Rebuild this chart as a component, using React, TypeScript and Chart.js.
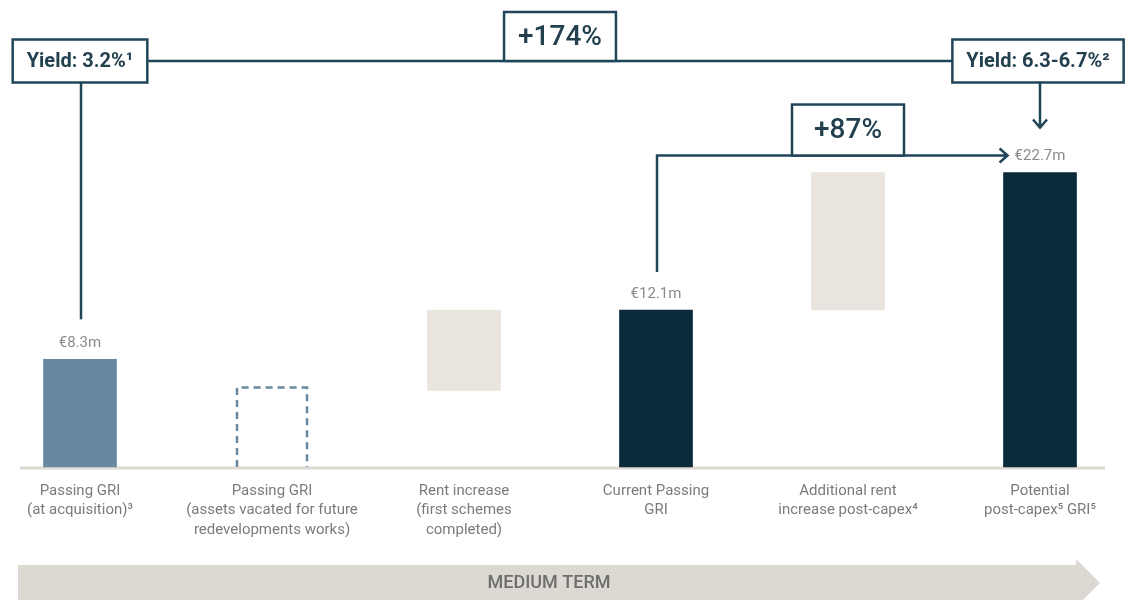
import React, { useEffect, useRef } from "react";
import { Chart, registerables } from "chart.js";

Chart.register(...registerables);

// ---- data ----
const categories: string[][] = [
  ["Passing GRI", "(at acquisition)³"],
  ["Passing GRI", "(assets vacated for future", "redevelopments works)"],
  ["Rent increase", "(first schemes", "completed)"],
  ["Current Passing", "GRI"],
  ["Additional rent", "increase post-capex⁴"],
  ["Potential", "post-capex⁵ GRI⁵"],
];
const barStart = [0, 0, 5.9, 0, 12.1, 0];
const barEnd = [8.3, 6.2, 12.1, 12.1, 22.7, 22.7];
const valueLabels = ["€8.3m", "", "", "€12.1m", "", "€22.7m"];
const barColors = ["#67889e", "rgba(0,0,0,0)", "#e9e5de", "#0b2a3a", "#e9e5de", "#0b2a3a"];
const yieldStartLabel = "Yield: 3.2%¹";
const yieldEndLabel = "Yield: 6.3-6.7%²";
const growthTotalLabel = "+174%";
const growthCurrentLabel = "+87%";
const bandLabel = "MEDIUM TERM";

const FONT = "Roboto, 'Noto Sans', sans-serif";
const LINE = "#1f4658";
const TEXT_DARK = "#23404f";

function drawBox(ctx: CanvasRenderingContext2D, cx: number, top: number, w: number, h: number, text: string, font: string) {
  ctx.save();
  ctx.fillStyle = "#ffffff";
  ctx.fillRect(cx - w / 2, top, w, h);
  ctx.lineWidth = 2.5;
  ctx.strokeStyle = LINE;
  ctx.strokeRect(cx - w / 2, top, w, h);
  ctx.fillStyle = TEXT_DARK;
  ctx.font = font;
  ctx.textAlign = "center";
  ctx.textBaseline = "middle";
  ctx.fillText(text, cx, top + h / 2 + 1);
  ctx.restore();
}

const waterfallPlugin = {
  id: "waterfallDecor",
  beforeDatasetsDraw(chart: any) {
    const ctx: CanvasRenderingContext2D = chart.ctx;
    const ca = chart.chartArea;
    ctx.save();
    // baseline
    ctx.fillStyle = "#dedad3";
    ctx.fillRect(20, ca.bottom - 0.5, 1085, 3);
    // band arrow
    ctx.fillStyle = "#dcd9d3";
    ctx.beginPath();
    ctx.moveTo(18, 565);
    ctx.lineTo(1076, 565);
    ctx.lineTo(1076, 559);
    ctx.lineTo(1100, 583);
    ctx.lineTo(1076, 607);
    ctx.lineTo(1076, 601);
    ctx.lineTo(18, 601);
    ctx.closePath();
    ctx.fill();
    ctx.fillStyle = "#6e6e6e";
    ctx.font = `500 18px ${FONT}`;
    ctx.textAlign = "center";
    ctx.textBaseline = "middle";
    ctx.fillText(bandLabel, 549, 583);
    ctx.restore();
  },
  afterDatasetsDraw(chart: any) {
    const ctx: CanvasRenderingContext2D = chart.ctx;
    const els = chart.getDatasetMeta(0).data;
    const p = (i: number) => els[i].getProps(["x", "y", "base", "width"], true);

    ctx.save();
    // dashed outline bar
    const d = p(1);
    ctx.strokeStyle = "#67889e";
    ctx.lineWidth = 2.5;
    ctx.setLineDash([7, 5]);
    ctx.beginPath();
    const l = d.x - d.width / 2 + 1.5;
    const r = d.x + d.width / 2 - 1.5;
    ctx.moveTo(l, d.base);
    ctx.lineTo(l, d.y + 1);
    ctx.lineTo(r, d.y + 1);
    ctx.lineTo(r, d.base);
    ctx.stroke();
    ctx.setLineDash([]);

    // value labels
    ctx.font = `400 15px ${FONT}`;
    ctx.fillStyle = "#8a8a8a";
    ctx.textAlign = "center";
    ctx.textBaseline = "middle";
    valueLabels.forEach((t, i) => {
      if (!t) return;
      const e = p(i);
      ctx.fillText(t, e.x, e.y - 16);
    });

    // annotation geometry
    const b0 = p(0), b3 = p(3), b5 = p(5);
    const topLineY = 61;
    const yieldH = 43;
    const yieldFont = `700 20px ${FONT}`;
    ctx.font = yieldFont;
    const w1 = ctx.measureText(yieldStartLabel).width + 28;
    const w2 = ctx.measureText(yieldEndLabel).width + 28;

    ctx.strokeStyle = LINE;
    ctx.lineWidth = 2.5;
    ctx.lineCap = "butt";
    // top connecting line
    ctx.beginPath();
    ctx.moveTo(b0.x + w1 / 2, topLineY);
    ctx.lineTo(b5.x - w2 / 2, topLineY);
    ctx.stroke();
    // vertical from first yield box to first label
    ctx.beginPath();
    ctx.moveTo(b0.x + 1, topLineY + yieldH / 2);
    ctx.lineTo(b0.x + 1, b0.y - 40);
    ctx.stroke();
    // down arrow from second yield box
    const tipY = b5.y - 45;
    ctx.beginPath();
    ctx.moveTo(b5.x, topLineY + yieldH / 2);
    ctx.lineTo(b5.x, tipY);
    ctx.moveTo(b5.x - 7, tipY - 8);
    ctx.lineTo(b5.x, tipY);
    ctx.lineTo(b5.x + 7, tipY - 8);
    ctx.stroke();

    // +87% connector
    const midY = b5.y - 17;
    ctx.font = `400 15px ${FONT}`;
    const lw = ctx.measureText(valueLabels[5]).width;
    const tipX = b5.x - lw / 2 - 7;
    ctx.beginPath();
    ctx.moveTo(b3.x + 1, b3.y - 38);
    ctx.lineTo(b3.x + 1, midY);
    ctx.lineTo(tipX, midY);
    ctx.moveTo(tipX - 8, midY - 7);
    ctx.lineTo(tipX, midY);
    ctx.lineTo(tipX - 8, midY + 7);
    ctx.stroke();

    // boxes
    drawBox(ctx, b0.x, topLineY - yieldH / 2, w1, yieldH, yieldStartLabel, yieldFont);
    drawBox(ctx, b5.x - 2, topLineY - yieldH / 2, w2, yieldH, yieldEndLabel, yieldFont);
    const bigFont = `500 28px ${FONT}`;
    ctx.font = bigFont;
    const w174 = ctx.measureText(growthTotalLabel).width + 28;
    drawBox(ctx, (b0.x + b5.x) / 2, topLineY - 49, w174, 49, growthTotalLabel, bigFont);
    const w87 = ctx.measureText(growthCurrentLabel).width + 44;
    drawBox(ctx, (b3.x + b5.x) / 2, midY - 51, w87, 51, growthCurrentLabel, bigFont);
    ctx.restore();
  },
};

export default function App() {
  const ref = useRef<HTMLCanvasElement>(null);
  useEffect(() => {
    if (!ref.current) return;
    Chart.defaults.font.family = FONT;
    const chart = new Chart(ref.current, {
      type: "bar",
      data: {
        labels: categories as any,
        datasets: [
          {
            data: barStart.map((s, i) => [s, barEnd[i]]) as any,
            backgroundColor: barColors,
            borderWidth: 0,
            barThickness: 73,
            clip: false as any,
          },
        ],
      },
      options: {
        responsive: false,
        devicePixelRatio: 1,
        animation: false,
        layout: { padding: { left: 80, right: 89, top: 0, bottom: 0 } },
        plugins: { legend: { display: false }, tooltip: { enabled: false } },
        scales: {
          x: {
            type: "category",
            offset: false,
            grid: { display: false, drawTicks: false },
            border: { display: false },
            ticks: {
              autoSkip: false,
              maxRotation: 0,
              minRotation: 0,
              padding: 14,
              color: "#7b7b7b",
              font: { size: 15, lineHeight: 1.3 },
            },
            afterFit: (s: any) => {
              s.height = 133;
            },
          },
          y: { display: false, min: 0, max: 36 },
        },
      },
      plugins: [waterfallPlugin],
    });
    return () => chart.destroy();
  }, []);
  return (
    <div style={{ position: "fixed", left: 0, top: 0, width: 1129, height: 600, background: "#fff" }}>
      <canvas ref={ref} width={1129} height={600} style={{ display: "block", width: 1129, height: 600 }} />
    </div>
  );
}
